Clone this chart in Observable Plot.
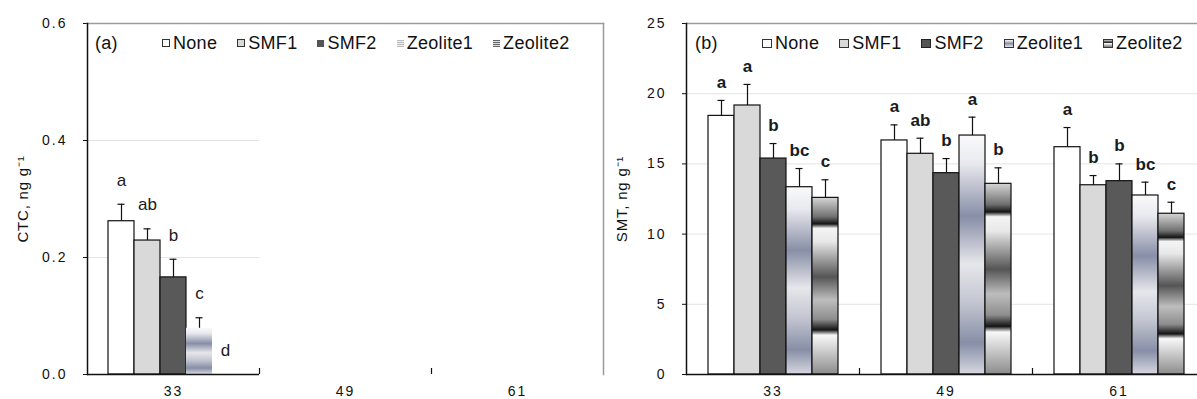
<!DOCTYPE html>
<html>
<head>
<meta charset="utf-8">
<script src="https://cdn.jsdelivr.net/npm/d3@7"></script>
<script src="https://cdn.jsdelivr.net/npm/@observablehq/plot@0.6"></script>
<style>
  html, body { margin: 0; padding: 0; background: #fff; overflow: hidden; }
  #wrap { position: relative; width: 1197px; height: 399px; overflow: hidden; font-family: "Liberation Sans", Arial, sans-serif; }
  .panel { position: absolute; top: 0; height: 399px; }
  .panel svg { display: block; }
  .legend { position: absolute; top: 32px; height: 22px; display: flex; align-items: center; font-size: 18px; letter-spacing: 0.3px; color: #111; white-space: nowrap; }
  .legend .tag { display: inline-block; }
  .legend .item { display: flex; align-items: center; margin-right: 20px; }
  .legend .sw { width: 8px; height: 8px; margin-right: 3px; box-sizing: border-box; }
  g[aria-label="y-axis tick label"] text, g[aria-label="fx-axis tick label"] text { letter-spacing: 2px; font-size: 14px; }
  g[aria-label="y-axis label"] text { font-size: 15px; letter-spacing: 0.8px; }
</style>
</head>
<body>
<div id="wrap">
  <div class="panel" id="pa" style="left:0;width:610px;"></div>
  <div class="panel" id="pb" style="left:610px;width:595px;"></div>
</div>
<script>
// ---- data ----
const series = ["None", "SMF1", "SMF2", "Zeolite1", "Zeolite2"];
const days = ["33", "49", "61"];

// CTC (panel a)
const ctc33 = [0.262, 0.229, 0.166, 0.079, 0];
const ctc33Err = [0.029, 0.020, 0.031, 0.018, 0];
const ctc49 = [0, 0, 0, 0, 0];
const ctc49Err = [0, 0, 0, 0, 0];
const ctc61 = [0, 0, 0, 0, 0];
const ctc61Err = [0, 0, 0, 0, 0];
const ctcLetters33 = ["a", "ab", "b", "c", "d"];
const ctcLetters49 = ["", "", "", "", ""];
const ctcLetters61 = ["", "", "", "", ""];

// SMT (panel b)
const smt33 = [18.42, 19.16, 15.38, 13.34, 12.58];
const smt33Err = [1.10, 1.50, 1.07, 1.33, 1.29];
const smt49 = [16.67, 15.72, 14.34, 17.02, 13.58];
const smt49Err = [1.11, 1.11, 1.04, 1.31, 1.14];
const smt61 = [16.19, 13.48, 13.77, 12.75, 11.45];
const smt61Err = [1.40, 0.69, 1.23, 0.95, 0.82];
const smtLetters33 = ["a", "a", "b", "bc", "c"];
const smtLetters49 = ["a", "ab", "b", "a", "b"];
const smtLetters61 = ["a", "b", "b", "bc", "c"];

function buildRows(values, errs, letters) {
  const rows = [];
  days.forEach((day, i) => {
    series.forEach((s, j) => {
      rows.push({day, series: s, value: values[i][j], err: errs[i][j], letter: letters[i][j]});
    });
  });
  return rows;
}

const ctcRows = buildRows([ctc33, ctc49, ctc61], [ctc33Err, ctc49Err, ctc61Err], [ctcLetters33, ctcLetters49, ctcLetters61]);
const smtRows = buildRows([smt33, smt49, smt61], [smt33Err, smt49Err, smt61Err], [smtLetters33, smtLetters49, smtLetters61]);

function gradients(id) {
  return `
  <linearGradient id="zeo1-${id}" x1="0" y1="0" x2="0" y2="1">
    <stop offset="0" stop-color="#fafafb"/>
    <stop offset="0.12" stop-color="#e8e9ee"/>
    <stop offset="0.34" stop-color="#878ea6"/>
    <stop offset="0.54" stop-color="#e6e7eb"/>
    <stop offset="0.70" stop-color="#c3c6d1"/>
    <stop offset="0.87" stop-color="#878ea6"/>
    <stop offset="1" stop-color="#d6d8e0"/>
  </linearGradient>
  <linearGradient id="zeo2-${id}" x1="0" y1="0" x2="0" y2="1">
    <stop offset="0" stop-color="#d6d6d6"/>
    <stop offset="0.11" stop-color="#707070"/>
    <stop offset="0.15" stop-color="#141414"/>
    <stop offset="0.175" stop-color="#f4f4f4"/>
    <stop offset="0.25" stop-color="#e8e8e8"/>
    <stop offset="0.45" stop-color="#555555"/>
    <stop offset="0.58" stop-color="#bdbdbd"/>
    <stop offset="0.69" stop-color="#8e8e8e"/>
    <stop offset="0.75" stop-color="#141414"/>
    <stop offset="0.78" stop-color="#f8f8f8"/>
    <stop offset="1" stop-color="#8c8c8c"/>
  </linearGradient>`;
}

function makeChart(o) {
  const fills = ["#ffffff", "#d9d9d9", "#595959", `url(#zeo1-${o.id})`, `url(#zeo2-${o.id})`];
  const noStroke = d => o.noStrokeSeries.includes(d.series);
  const rows = o.rows;
  const frameMarks = [
    Plot.frame({anchor: "top", facet: "super", stroke: "#9a9a9a", strokeWidth: 1.5}),
    Plot.frame({anchor: "left", facet: "super", stroke: "#111", strokeWidth: 1.5})
  ];
  if (o.rightFrame) frameMarks.push(Plot.frame({anchor: "right", facet: "super", stroke: "#9a9a9a", strokeWidth: 1.5}));
  const chart = Plot.plot({
    width: o.width,
    height: 399,
    marginLeft: o.marginLeft,
    marginRight: o.marginRight,
    marginTop: 23,
    marginBottom: 25,
    style: {fontFamily: '"Liberation Sans", Arial, sans-serif', fontSize: "14px", color: "#111", background: "transparent"},
    fx: {domain: days, padding: 0, label: null, tickSize: 0, tickPadding: 12, axis: "bottom"},
    x: {domain: series, paddingInner: 0, paddingOuter: 0.76, axis: null},
    y: {domain: o.yDomain, ticks: o.yTicks, tickFormat: o.yFormat, tickSize: 4, tickPadding: 16,
        label: o.yLabel, labelAnchor: "center", labelOffset: 70, labelArrow: "none"},
    color: {domain: series, range: fills},
    marks: [
      Plot.gridY({ticks: o.yTicks, stroke: "#e4e4e4", strokeOpacity: 1}),
      Plot.barY(rows.filter(d => d.value > 0 && !noStroke(d)), {fx: "day", x: "series", y: "value", fill: "series", stroke: "#111", strokeWidth: 1.2}),
      Plot.barY(rows.filter(d => d.value > 0 && noStroke(d)), {fx: "day", x: "series", y: "value", fill: "series"}),
      Plot.ruleX(rows.filter(d => d.err > 0), {fx: "day", x: "series", y1: "value", y2: d => d.value + d.err, stroke: "#111", strokeWidth: 1.2}),
      Plot.tickY(rows.filter(d => d.err > 0), {fx: "day", x: "series", y: d => d.value + d.err, stroke: "#111", strokeWidth: 1.2, insetLeft: 9.5, insetRight: 9.5}),
      Plot.text(rows.filter(d => d.letter), {fx: "day", x: "series", y: d => d.value + d.err, text: "letter", dy: -o.letterDy, fontSize: 17, fontWeight: o.letterWeight, fill: "#1a1a1a"}),
      Plot.ruleY([o.yDomain[0]], {stroke: "#111", strokeWidth: 1.5}),
      ...frameMarks
    ]
  });
  const svg = d3.select(chart.tagName.toLowerCase() === "svg" ? chart : chart.querySelector("svg"));
  svg.insert("defs", ":first-child").html(gradients(o.id));
  // category boundary ticks on the x axis
  const fx = chart.scale("fx");
  const y = chart.scale("y");
  const y0 = y.apply(o.yDomain[0]);
  days.slice(1).forEach(d => {
    const xx = Math.round(fx.apply(d)) + 0.5;
    svg.append("line").attr("x1", xx).attr("x2", xx).attr("y1", y0).attr("y2", y0 - 6)
      .attr("stroke", "#111").attr("stroke-width", 1.2);
  });
  return chart;
}

function legend(parent, tag, left, swatches) {
  const lg = document.createElement("div");
  lg.className = "legend";
  lg.style.left = left + "px";
  const t = document.createElement("span");
  t.className = "tag";
  t.textContent = tag;
  t.style.width = "67px";
  lg.appendChild(t);
  series.forEach((s, i) => {
    const it = document.createElement("span");
    it.className = "item";
    const sw = document.createElement("span");
    sw.className = "sw";
    Object.assign(sw.style, swatches[i]);
    const lab = document.createElement("span");
    lab.textContent = s;
    it.appendChild(sw);
    it.appendChild(lab);
    lg.appendChild(it);
  });
  parent.appendChild(lg);
}

const pa = document.getElementById("pa");
const pb = document.getElementById("pb");

pa.appendChild(makeChart({
  id: "a", rows: ctcRows, width: 610, marginLeft: 86, marginRight: 7,
  yDomain: [0, 0.6], yTicks: 3, yFormat: ".1f", yLabel: "CTC, ng g\u207B\u00B9",
  letterDy: 24, letterWeight: "normal", noStrokeSeries: ["Zeolite1"], rightFrame: true
}));
pb.appendChild(makeChart({
  id: "b", rows: smtRows, width: 595, marginLeft: 76, marginRight: 0,
  yDomain: [0, 25], yTicks: 5, yFormat: "d", yLabel: "SMT, ng g\u207B\u00B9",
  letterDy: 18, letterWeight: "bold", noStrokeSeries: [], rightFrame: false
}));

legend(pa, "(a)", 95, [
  {border: "1px solid #333", background: "#fff"},
  {border: "1px solid #333", background: "#d9d9d9"},
  {background: "#555", width: "7px", height: "7px"},
  {background: "repeating-linear-gradient(#bbb 0 1px, #eee 1px 2px)", width: "7px", height: "7px"},
  {background: "repeating-linear-gradient(#666 0 1px, #ddd 1px 2px)", width: "7px", height: "7px"}
]);
legend(pb, "(b)", 85, [
  {border: "1px solid #333", background: "#fff", width: "10px", height: "9px"},
  {border: "1px solid #333", background: "#d9d9d9", width: "10px", height: "9px"},
  {border: "1px solid #222", background: "#555", width: "10px", height: "9px"},
  {border: "1px solid #333", background: "linear-gradient(#fafafa, #8a91a8 50%, #e6e7eb)", width: "10px", height: "9px"},
  {border: "1px solid #333", background: "linear-gradient(#ccc, #222 35%, #f4f4f4 50%, #777)", width: "10px", height: "9px"}
]);
</script>
</body>
</html>
